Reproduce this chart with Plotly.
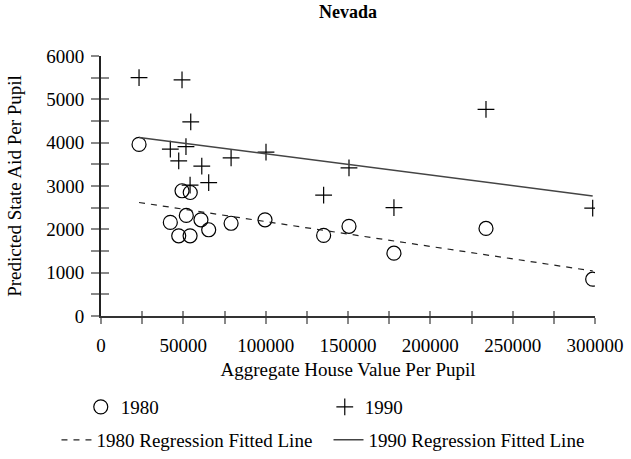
import plotly.graph_objects as go

# 1980 observations
value_1980 = [23100, 49200, 54200, 42100, 51800, 60700, 65400, 79000, 99600, 47200, 54100, 135200, 150600, 233800, 177900, 298600]
aid_1980 = [3960, 2890, 2850, 2160, 2320, 2220, 1990, 2140, 2220, 1850, 1850, 1860, 2070, 2020, 1450, 850]

# 1990 observations
value_1990 = [23100, 49200, 54500, 42100, 51600, 47200, 61200, 79000, 100200, 54100, 65400, 233800, 150600, 135200, 177900, 298600]
aid_1990 = [5500, 5450, 4480, 3850, 3910, 3580, 3460, 3650, 3780, 3020, 3080, 4770, 3420, 2790, 2500, 2490]

# fitted lines (end points)
fit_x = [23100, 298600]
fit_1980 = [2620, 1040]
fit_1990 = [4120, 2770]

FONT = "Liberation Serif"
font19 = dict(family=FONT, size=19, color="black")

fig = go.Figure()
fig.add_trace(go.Scatter(x=value_1980, y=aid_1980, mode="markers", name="1980",
                         marker=dict(symbol="circle-open", size=14, color="black", line=dict(width=1.2)),
                         legend="legend"))
fig.add_trace(go.Scatter(x=value_1990, y=aid_1990, mode="markers", name="1990",
                         marker=dict(symbol="cross-thin-open", size=12, color="black", line=dict(width=1.2)),
                         legend="legend"))
fig.add_trace(go.Scatter(x=fit_x, y=fit_1980, mode="lines", name="1980 Regression Fitted Line",
                         line=dict(color="#222", width=1.2, dash="6px,6px"), legend="legend2"))
fig.add_trace(go.Scatter(x=fit_x, y=fit_1990, mode="lines", name="1990 Regression Fitted Line",
                         line=dict(color="#444", width=1.5), legend="legend3"))

# invisible trace on overlay axes: draws the inner half of the crossing ticks
fig.add_trace(go.Scatter(x=[None], y=[None], xaxis="x2", yaxis="y2", showlegend=False, hoverinfo="skip"))

tick_common = dict(tickcolor="#888", tickwidth=2, showgrid=False, zeroline=False)
legend_common = dict(orientation="h", xref="container", yref="container", xanchor="left",
                     yanchor="top", bgcolor="rgba(0,0,0,0)", font=font19)

fig.update_layout(
    width=631, height=459,
    margin=dict(l=101, r=36, t=56, b=143, autoexpand=False),
    paper_bgcolor="white", plot_bgcolor="white",
    font=font19,
    title=dict(text="<b>Nevada</b>", x=0.5, xref="paper", y=1 - 12 / 459, yref="container",
               yanchor="middle", font=dict(family=FONT, size=18, color="black")),
    xaxis=dict(range=[0, 300000], dtick=50000, ticks="outside", ticklen=6,
               showline=True, linecolor="#333", linewidth=2,
               minor=dict(dtick=25000, ticks="outside", ticklen=6, tickcolor="#888", tickwidth=2),
               title=dict(text="Aggregate House Value Per Pupil", standoff=8, font=font19),
               tickfont=font19, ticklabelstandoff=5, tickformat="d", **tick_common),
    yaxis=dict(range=[0, 6000], dtick=1000, ticks="outside", ticklen=8,
               showline=True, linecolor="#222", linewidth=2,
               minor=dict(dtick=500, ticks="outside", ticklen=8, tickcolor="#888", tickwidth=2),
               title=dict(text="Predicted State Aid Per Pupil", standoff=20, font=font19),
               tickfont=font19, ticklabelstandoff=3, tickformat="d", **tick_common),
    xaxis2=dict(range=[0, 300000], dtick=50000, ticks="inside", ticklen=5, overlaying="x",
                showticklabels=False, minor=dict(dtick=25000, ticks="inside", ticklen=5, tickcolor="#888", tickwidth=2),
                **tick_common),
    yaxis2=dict(range=[0, 6000], dtick=1000, ticks="inside", ticklen=8, overlaying="y",
                showticklabels=False, minor=dict(dtick=500, ticks="inside", ticklen=8, tickcolor="#888", tickwidth=2),
                **tick_common),
    legend=dict(x=0.128, y=1 - 388 / 459, entrywidth=199, entrywidthmode="pixels", **legend_common),
    legend2=dict(x=0.0895, y=1 - 421 / 459, **legend_common),
    legend3=dict(x=0.5206, y=1 - 421 / 459, **legend_common),
)

fig.write_html("out.html", config={"displayModeBar": False},
               post_script="document.body.style.margin='0px';")
